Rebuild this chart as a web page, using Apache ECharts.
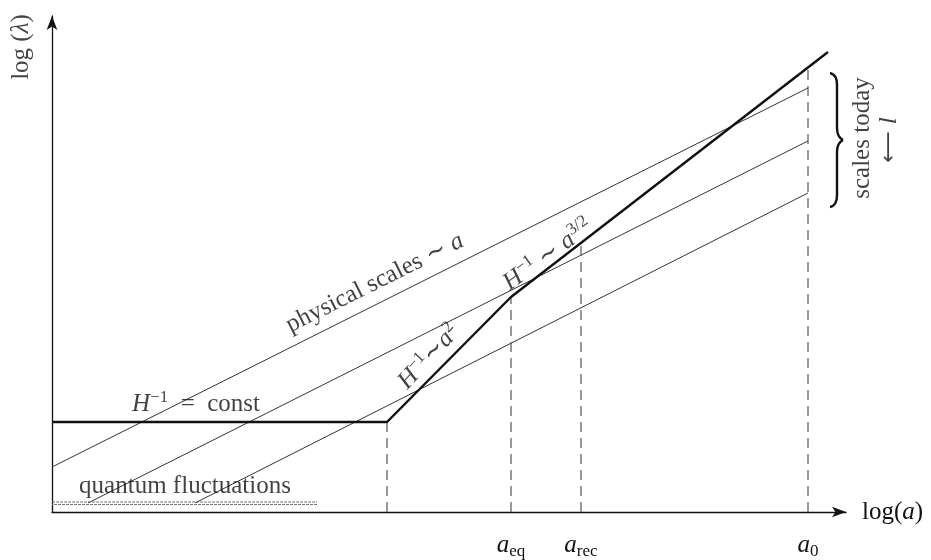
<!DOCTYPE html>
<html>
<head>
<meta charset="UTF-8">
<title>Horizon and physical scales</title>
<script src="https://cdn.jsdelivr.net/npm/echarts@6/dist/echarts.min.js"></script>
<style>
  html, body { margin: 0; padding: 0; background: #fff; }
  #chart { width: 931px; height: 560px; }
</style>
</head>
<body>
<div id="chart"></div>
<script>
  // schematic units: x = log(a), y = log(lambda), both from the origin
  const hubble = [[0, 90], [335, 90], [459, 215], [776, 460]];
  const scaleA = [[0, 45], [756, 424]];
  const scaleB = [[36, 9], [756, 371]];
  const scaleC = [[143, 9], [756, 319]];
  const quantumTop = [[0, 10], [265, 10]];
  const quantumBottom = [[0, 7.5], [265, 7.5]];
  // dashed guides: x of each epoch and where it meets the hubble line
  const epochX = [335, 459, 529, 756];
  const epochTop = [90, 215, 269, 445];
  const tickValues = [459, 529, 756];
  const tickNames = ['{a|a}{s|eq}', '{a|a}{s|rec}', '{a|a}{s|0}'];

  const SERIF = "'Liberation Serif', 'DejaVu Serif', serif";
  const INK = '#111';
  const rich = {
    r: { fontFamily: SERIF, fontSize: 25, color: INK, lineHeight: 30, verticalAlign: 'middle' },
    i: { fontFamily: SERIF, fontSize: 25, fontStyle: 'italic', color: INK, lineHeight: 30, verticalAlign: 'middle' },
    a: { fontFamily: SERIF, fontSize: 25, fontStyle: 'italic', color: INK, lineHeight: 30, verticalAlign: 'middle' },
    p: { fontFamily: SERIF, fontSize: 17, color: INK, verticalAlign: 'top' },
    s: { fontFamily: SERIF, fontSize: 17, color: INK, verticalAlign: 'bottom' },
    ar: { fontFamily: "'DejaVu Sans', sans-serif", fontSize: 22, color: INK, lineHeight: 30, verticalAlign: 'middle' }
  };

  // text annotations, placed in the same units as the data
  const notes = [
    { at: [-31, 465], rot: 90, text: '{r|log (}{i|λ}{r|)}' },
    { at: [323, 229], rot: 26.5, text: '{r|physical scales ∼ }{i|a}' },
    { at: [377, 155], rot: 47, text: '{i|H}{p|−1}{r|∼}{i|a}{p|2}' },
    { at: [496, 257], rot: 36, text: '{i|H}{p|−1}{r| ∼ }{i|a}{p|3/2}' },
    { at: [144, 108], rot: 0, text: '{i|H}{p|−1}{r|  =  const}' },
    { at: [133, 26], rot: 0, text: '{r|quantum fluctuations}' },
    { at: [810, 374], rot: 90, text: '{r|scales today}' },
    { at: [837, 372], rot: 90, text: '{ar|⟵ }{i|l}' }
  ];

  const thin = (data) => ({
    type: 'line', data, showSymbol: false, silent: true,
    lineStyle: { color: '#333', width: 1 }
  });

  const guides = epochX.map((x, k) => ({
    type: 'line', data: [[x, 0], [x, epochTop[k]]], showSymbol: false, silent: true,
    lineStyle: { color: '#555', width: 1.2, type: [10, 6] }
  }));

  // curly brace next to today's scales
  const braceStyle = { fill: null, stroke: INK, lineWidth: 2.4 };
  const brace = [
    { type: 'bezierCurve', shape: { x1: 830, y1: 73, cpx1: 835, cpy1: 74, cpx2: 837, cpy2: 78, x2: 837, y2: 85 } },
    { type: 'line', shape: { x1: 837, y1: 85, x2: 837, y2: 128 } },
    { type: 'bezierCurve', shape: { x1: 837, y1: 128, cpx1: 837, cpy1: 134, cpx2: 839, cpy2: 138, x2: 843, y2: 140 } },
    { type: 'bezierCurve', shape: { x1: 843, y1: 140, cpx1: 839, cpy1: 142, cpx2: 837, cpy2: 146, x2: 837, y2: 152 } },
    { type: 'line', shape: { x1: 837, y1: 152, x2: 837, y2: 195 } },
    { type: 'bezierCurve', shape: { x1: 837, y1: 195, cpx1: 837, cpy1: 202, cpx2: 835, cpy2: 206, x2: 830, y2: 207 } }
  ].map(g => Object.assign(g, { style: braceStyle, silent: true }));

  const chart = echarts.init(document.getElementById('chart'));
  chart.setOption({
    animation: false,
    grid: { left: 52, right: 85, top: 16, bottom: 48 },
    xAxis: {
      type: 'value', min: 0, max: 794,
      name: '{r|log(}{i|a}{r|)}', nameLocation: 'end', nameGap: 16,
      nameTextStyle: { rich },
      axisLine: { symbol: ['none', 'arrow'], symbolSize: [8, 14], lineStyle: { color: INK, width: 1.3 } },
      axisTick: { show: false },
      splitLine: { show: false },
      axisLabel: {
        customValues: tickValues,
        margin: 18,
        formatter: (v) => tickNames[tickValues.indexOf(v)] || '',
        rich
      }
    },
    yAxis: {
      type: 'value', min: 0, max: 496,
      axisLine: { symbol: ['none', 'arrow'], symbolSize: [8, 14], lineStyle: { color: INK, width: 1.3 } },
      axisTick: { show: false },
      axisLabel: { show: false },
      splitLine: { show: false }
    },
    series: [
      thin(scaleA), thin(scaleB), thin(scaleC),
      {
        type: 'line', data: quantumTop, showSymbol: false, silent: true,
        lineStyle: { color: '#666', width: 0.9, type: [3, 1] }
      },
      {
        type: 'line', data: quantumBottom, showSymbol: false, silent: true,
        lineStyle: { color: '#666', width: 0.9, type: [3, 1], dashOffset: 2 }
      },
      ...guides,
      {
        type: 'line', data: hubble, showSymbol: false, silent: true, z: 5,
        lineStyle: { color: INK, width: 2.4 }
      },
      {
        type: 'scatter', symbolSize: 0, clip: false, silent: true, z: 6,
        data: notes.map(n => ({
          value: n.at,
          label: { show: true, position: 'inside', rotate: n.rot, formatter: n.text,
                   align: 'center', verticalAlign: 'middle', rich }
        }))
      }
    ],
    graphic: brace
  });
</script>
</body>
</html>
